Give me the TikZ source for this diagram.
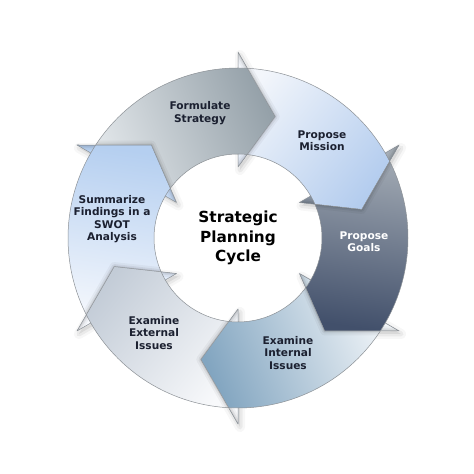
\documentclass[tikz,border=0pt]{standalone}
\usepackage{fontspec}
\setmainfont{DejaVu Sans}
\definecolor{fsT}{HTML}{E8ECEF}\definecolor{fsH}{HTML}{95A1A9}
\definecolor{pmT}{HTML}{F3F6FB}\definecolor{pmH}{HTML}{B3CCEE}
\definecolor{pgT}{HTML}{A5ADB6}\definecolor{pgH}{HTML}{42506B}
\definecolor{eiT}{HTML}{F4F7FA}\definecolor{eiH}{HTML}{82A5C0}
\definecolor{eeT}{HTML}{F8F9FB}\definecolor{eeH}{HTML}{C3CCD7}
\definecolor{swT}{HTML}{F7F9FD}\definecolor{swH}{HTML}{B5CFF0}
\definecolor{labcol}{HTML}{1B2030}
\definecolor{edgecol}{HTML}{8C9196}
\def\Ro{170}\def\Ri{84}\def\Rm{127}\def\Rh{186}\def\Rhi{71}
\newcommand\ringpath[1]{(#1+60:\Ro) arc[start angle=#1+60, end angle=#1, radius=\Ro] -- (#1:\Rh) -- (#1-17:\Rm) -- (#1:\Rhi) -- (#1:\Ri) arc[start angle=#1, end angle=#1+60, radius=\Ri] -- (#1+60:\Rhi) -- (#1+43:\Rm) -- (#1+60:\Rh) -- cycle}
\newcommand\ringedge[1]{(#1+60:\Ro) arc[start angle=#1+60, end angle=#1, radius=\Ro] -- (#1:\Rh) -- (#1-17:\Rm) -- (#1:\Rhi) -- (#1:\Ri) arc[start angle=#1, end angle=#1+60, radius=\Ri]}
\newcommand\ringfill[3]{\shade[top color=#2, bottom color=#3, shading angle=#1+21.5] \ringpath{#1};}
\newcommand\headshadow[1]{\begin{scope}\clip \ringpath{#1-60};
  \draw[line width=9pt, black, opacity=0.04, line join=round] (#1:\Rh) -- (#1-17:\Rm) -- (#1:\Rhi);
  \draw[line width=5pt, black, opacity=0.06, line join=round] (#1:\Rh) -- (#1-17:\Rm) -- (#1:\Rhi);
  \draw[line width=2pt, black, opacity=0.08, line join=round] (#1:\Rh) -- (#1-17:\Rm) -- (#1:\Rhi);
  \end{scope}}
\newcommand\preshadow[1]{\begin{scope}[shift={(2,-3)}]
  \draw[line width=10pt, black, opacity=0.03, line join=round] (#1:\Rh) -- (#1-17:\Rm) -- (#1:\Rhi) -- cycle;
  \draw[line width=5pt, black, opacity=0.05, line join=round] (#1:\Rh) -- (#1-17:\Rm) -- (#1:\Rhi) -- cycle;
  \fill[black, opacity=0.07] (#1:\Rh) -- (#1-17:\Rm) -- (#1:\Rhi) -- cycle;
  \end{scope}}
\tikzset{
  lab/.style={align=center, text=labcol, font=\fontsize{10.6}{12.3}\selectfont\bfseries},
  ctr/.style={align=center, text=black, font=\fontsize{15.3}{19.3}\selectfont\bfseries},
  ringline/.style={draw=edgecol, line width=0.5pt, line join=round}
}
\begin{document}
\begin{tikzpicture}[x=1pt,y=1pt]
\useasboundingbox[fill=white] (0,0) rectangle (474,474);
\begin{scope}[shift={(238,236)}]
  \preshadow{90}
  \preshadow{30}
  \preshadow{-30}
  \preshadow{-90}
  \preshadow{-150}
  \preshadow{150}
  \ringfill{90}{fsT}{fsH}
  \ringfill{30}{pmT}{pmH}
  \ringfill{-30}{pgT}{pgH}
  \ringfill{-90}{eiT}{eiH}
  \ringfill{-150}{eeT}{eeH}
  \ringfill{150}{swT}{swH}
  \headshadow{90}
  \headshadow{30}
  \headshadow{-30}
  \headshadow{-90}
  \headshadow{-150}
  \headshadow{150}
  \draw[ringline] \ringedge{90};
  \draw[ringline] \ringedge{30};
  \draw[ringline] \ringedge{-30};
  \draw[ringline] \ringedge{-90};
  \draw[ringline] \ringedge{-150};
  \draw[ringline] \ringedge{150};
\end{scope}
\node[lab] (fs) at (200,361) {Formulate\\Strategy};
\node[lab] (pm) at (322,333) {Propose\\Mission};
\node[lab, text=white] (pg) at (364,232) {Propose\\Goals};
\node[lab] (ei) at (288,121) {Examine\\Internal\\Issues};
\node[lab] (ee) at (154,141) {Examine\\External\\Issues};
\node[lab] (sw) at (112,255) {Summarize\\Findings in a\\SWOT\\Analysis};
\node[ctr] (c) at (238,236) {Strategic\\Planning\\Cycle};
\end{tikzpicture}
\end{document}
